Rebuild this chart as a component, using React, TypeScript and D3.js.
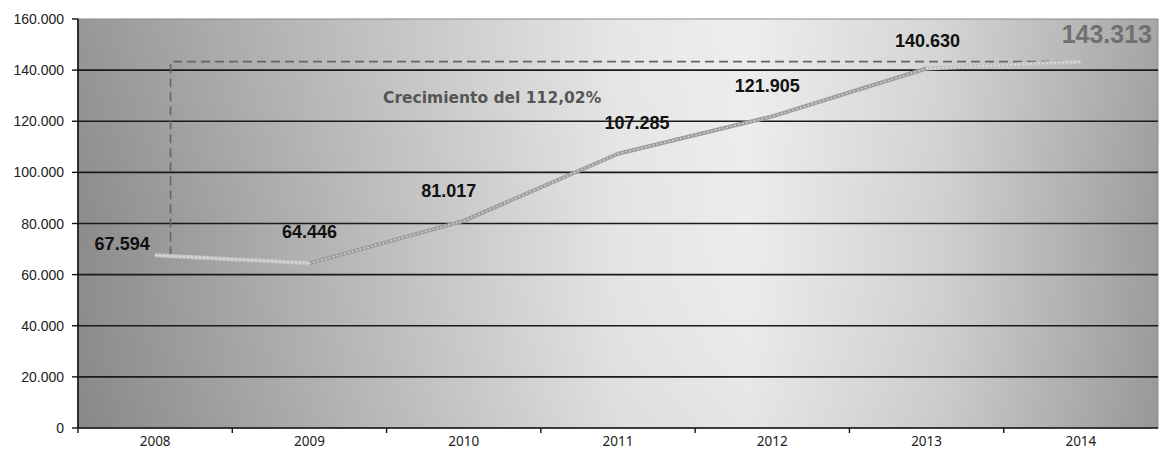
import { useEffect, useRef } from "react";
import * as d3 from "d3";

// Data
const years = ["2008", "2009", "2010", "2011", "2012", "2013", "2014"];
const values = [67594, 64446, 81017, 107285, 121905, 140630, 143313];
const yTicks = [0, 20000, 40000, 60000, 80000, 100000, 120000, 140000, 160000];

// label offsets (dx, dy) from each point
const labelShift: [number, number][] = [
  [-33, -5],
  [0, -25],
  [-15, -24],
  [19, -25],
  [-5, -24],
  [1, -22],
  [26, -19],
];

const width = 1162;
const height = 455;
const margin = { top: 19, right: 4, bottom: 27, left: 78 };

const fmt = (v: number) => d3.format(",")(v).replace(/,/g, ".");

const App = () => {
  const ref = useRef<SVGSVGElement | null>(null);

  useEffect(() => {
    const svg = d3.select(ref.current);
    svg.selectAll("*").remove();

    const x = d3
      .scaleBand<string>()
      .domain(years)
      .range([margin.left, width - margin.right]);
    const y = d3
      .scaleLinear()
      .domain([0, 160000])
      .range([height - margin.bottom, margin.top]);

    const cx = (i: number) => (x(years[i]) as number) + x.bandwidth() / 2;

    const defs = svg.append("defs");
    const hg = defs
      .append("linearGradient")
      .attr("id", "bgH")
      .attr("x1", "0")
      .attr("x2", "1")
      .attr("y1", "0")
      .attr("y2", "0");
    [
      [0, "#8c8c8c"],
      [0.25, "#b8b8b8"],
      [0.5, "#e4e4e4"],
      [0.62, "#ececec"],
      [0.8, "#d0d0d0"],
      [1, "#9c9c9c"],
    ].forEach(([o, c]) => hg.append("stop").attr("offset", o as number).attr("stop-color", c as string));

    const vg = defs
      .append("linearGradient")
      .attr("id", "bgV")
      .attr("x1", "0")
      .attr("x2", "0")
      .attr("y1", "0")
      .attr("y2", "1");
    vg.append("stop").attr("offset", 0).attr("stop-color", "#fff").attr("stop-opacity", 0.1);
    vg.append("stop").attr("offset", 0.5).attr("stop-color", "#fff").attr("stop-opacity", 0);
    vg.append("stop").attr("offset", 1).attr("stop-color", "#000").attr("stop-opacity", 0.03);

    const x0 = margin.left;
    const x1 = width - margin.right;
    const yTop = margin.top;
    const yBot = height - margin.bottom;

    svg
      .append("rect")
      .attr("x", x0)
      .attr("y", yTop)
      .attr("width", x1 - x0)
      .attr("height", yBot - yTop)
      .attr("fill", "url(#bgH)");
    svg
      .append("rect")
      .attr("x", x0)
      .attr("y", yTop)
      .attr("width", x1 - x0)
      .attr("height", yBot - yTop)
      .attr("fill", "url(#bgV)")
      .attr("stroke", "#8a8a8a")
      .attr("stroke-width", 1);

    // gridlines
    svg
      .append("g")
      .selectAll("line")
      .data(yTicks.filter((t) => t > 0 && t < 160000))
      .join("line")
      .attr("x1", x0)
      .attr("x2", x1)
      .attr("y1", (d) => y(d))
      .attr("y2", (d) => y(d))
      .attr("stroke", "#1a1a1a")
      .attr("stroke-width", 1.6);

    // y axis
    const yAxis = svg.append("g");
    yAxis
      .append("line")
      .attr("x1", x0)
      .attr("x2", x0)
      .attr("y1", yTop)
      .attr("y2", yBot)
      .attr("stroke", "#111")
      .attr("stroke-width", 1.6);
    yAxis
      .selectAll("line.tick")
      .data(yTicks)
      .join("line")
      .attr("class", "tick")
      .attr("x1", x0 - 6)
      .attr("x2", x0)
      .attr("y1", (d) => y(d))
      .attr("y2", (d) => y(d))
      .attr("stroke", "#111")
      .attr("stroke-width", 1.4);
    yAxis
      .selectAll("text")
      .data(yTicks)
      .join("text")
      .attr("x", x0 - 14)
      .attr("y", (d) => y(d) + 5)
      .attr("text-anchor", "end")
      .attr("font-family", "Liberation Sans, Arial, sans-serif")
      .attr("font-size", 14)
      .attr("fill", "#222")
      .text((d) => (d === 0 ? "0" : fmt(d)));

    // x axis
    const xAxis = svg.append("g");
    xAxis
      .append("line")
      .attr("x1", x0)
      .attr("x2", x1)
      .attr("y1", yBot)
      .attr("y2", yBot)
      .attr("stroke", "#111")
      .attr("stroke-width", 1.6);
    xAxis
      .selectAll("line.tick")
      .data(years)
      .join("line")
      .attr("class", "tick")
      .attr("x1", (d) => x(d) as number)
      .attr("x2", (d) => x(d) as number)
      .attr("y1", yBot)
      .attr("y2", yBot + 5)
      .attr("stroke", "#111")
      .attr("stroke-width", 1.4);
    xAxis
      .selectAll("text")
      .data(years)
      .join("text")
      .attr("x", (d) => (x(d) as number) + x.bandwidth() / 2)
      .attr("y", yBot + 18)
      .attr("text-anchor", "middle")
      .attr("font-family", "Noto Sans, sans-serif")
      .attr("font-size", 13.5)
      .attr("fill", "#222")
      .text((d) => d);

    // dashed growth bracket
    const first = values[0];
    const last = values[values.length - 1];
    const bx = cx(0) + x.bandwidth() * 0.1;
    svg
      .append("path")
      .attr(
        "d",
        `M${bx},${y(first)} L${bx},${y(last)} L${cx(values.length - 1) - 14},${y(last)}`
      )
      .attr("fill", "none")
      .attr("stroke", "#666")
      .attr("stroke-width", 1.7)
      .attr("stroke-dasharray", "9,5");

    const growth = ((last / first - 1) * 100).toFixed(2).replace(".", ",");
    svg
      .append("text")
      .attr("x", 383)
      .attr("y", 103)
      .attr("font-family", "DejaVu Sans, Verdana, sans-serif")
      .attr("font-weight", "bold")
      .attr("font-size", 15.5)
      .attr("fill", "#555")
      .text(`Crecimiento del ${growth}%`);

    // line
    const pts: [number, number][] = values.map((v, i) => [cx(i), y(v)]);
    const line = d3.line();
    const segs = [
      { p: pts.slice(0, 2), c: "#c4c4c4" },
      { p: pts.slice(1, 6), c: "#9e9e9e" },
      { p: pts.slice(5, 7), c: "#c4c4c4" },
    ];
    segs.forEach((s) => {
      svg
        .append("path")
        .attr("d", line(s.p))
        .attr("fill", "none")
        .attr("stroke", s.c)
        .attr("stroke-width", 4)
        .attr("stroke-linejoin", "round");
      svg
        .append("path")
        .attr("d", line(s.p))
        .attr("fill", "none")
        .attr("stroke", "#efefef")
        .attr("stroke-width", 1.4)
        .attr("stroke-dasharray", "1.5,2.5")
        .attr("opacity", 0.75);
    });

    // value labels
    svg
      .append("g")
      .selectAll("text")
      .data(values)
      .join("text")
      .attr("x", (d, i) => cx(i) + labelShift[i][0])
      .attr("y", (d, i) => y(d) + labelShift[i][1])
      .attr("text-anchor", "middle")
      .attr("font-family", "Liberation Sans, Arial, sans-serif")
      .attr("font-weight", "bold")
      .attr("font-size", (d, i) => (i === values.length - 1 ? 25 : 18))
      .attr("fill", (d, i) => (i === values.length - 1 ? "#707070" : "#111"))
      .text((d) => fmt(d));
  }, []);

  return (
    <svg
      ref={ref}
      width={width}
      height={height}
      style={{ position: "absolute", left: 0, top: 0, background: "#fff" }}
    />
  );
};

export default App;
